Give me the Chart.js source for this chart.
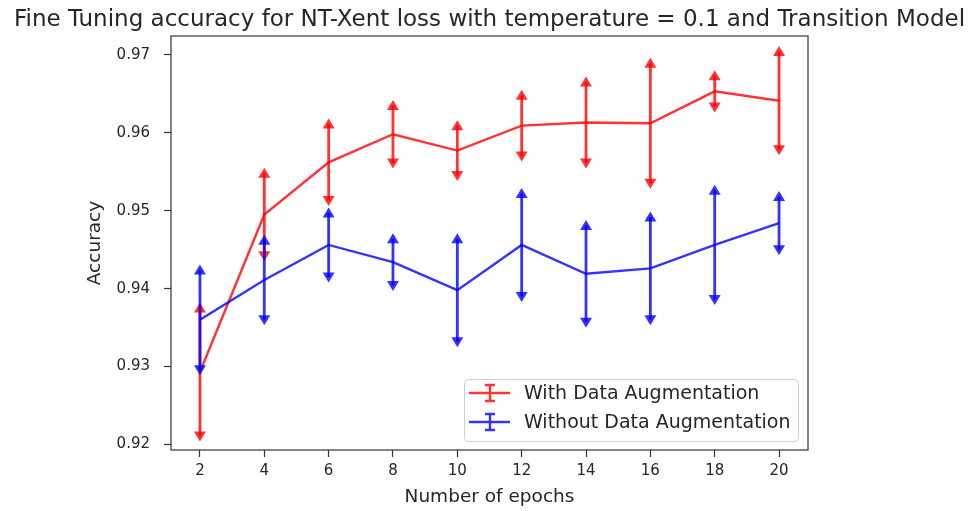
<!DOCTYPE html>
<html lang="en">
<head>
  <meta charset="UTF-8">
  <title>Fine Tuning accuracy</title>
  <style>
    body { margin: 0; background: #ffffff; }
    #wrap { width: 970px; height: 511px; }
  </style>
</head>
<body>
  <div id="wrap"><canvas id="chartCanvas" width="970" height="511"></canvas></div>

  <script src="https://cdn.jsdelivr.net/npm/chart.js"></script>
  <script>
    // values
    const epochs = [2, 4, 6, 8, 10, 12, 14, 16, 18, 20];
    const withAugMean = [0.9293, 0.9495, 0.9562, 0.9598, 0.9577, 0.9609, 0.9613, 0.9612, 0.9653, 0.9641];
    const withAugErr = [0.0082, 0.0053, 0.0049, 0.0037, 0.0032, 0.0039, 0.0052, 0.0077, 0.0020, 0.0063];
    const withoutAugMean = [0.9360, 0.9411, 0.9456, 0.9434, 0.9398, 0.9456, 0.9419, 0.9426, 0.9456, 0.9484];
    const withoutAugErr = [0.0064, 0.0051, 0.0041, 0.0030, 0.0066, 0.0066, 0.0062, 0.0066, 0.0070, 0.0034];
    const yTicks = [0.92, 0.93, 0.94, 0.95, 0.96, 0.97];

    const titleText = 'Fine Tuning accuracy for NT-Xent loss with temperature = 0.1 and Transition Model';
    const font = 'DejaVu Sans';
    const RED = 'rgba(255,0,0,0.8)';
    const BLUE = 'rgba(0,0,255,0.8)';

    const series = [
      { label: 'With Data Augmentation', mean: withAugMean, err: withAugErr, color: RED, order: 1 },
      { label: 'Without Data Augmentation', mean: withoutAugMean, err: withoutAugErr, color: BLUE, order: 0 }
    ];

    function arrow(ctx, x, y, dir) {
      // dir -1 = up, 1 = down; triangle centred on the bar end
      ctx.beginPath();
      ctx.moveTo(x, y + dir * 5.5);
      ctx.lineTo(x - 6, y - dir * 4.5);
      ctx.lineTo(x + 6, y - dir * 4.5);
      ctx.closePath();
      ctx.fill();
    }

    const errorBars = {
      id: 'errorBars',
      afterDatasetDraw(chart, args) {
        const s = series[args.index];
        const {ctx, scales: {x, y}} = chart;
        ctx.save();
        ctx.strokeStyle = s.color;
        ctx.fillStyle = s.color;
        ctx.lineWidth = 2.8;
        epochs.forEach((e, i) => {
          const px = x.getPixelForValue(e);
          const top = y.getPixelForValue(s.mean[i] + s.err[i]);
          const bot = y.getPixelForValue(s.mean[i] - s.err[i]);
          ctx.beginPath();
          ctx.moveTo(px, top);
          ctx.lineTo(px, bot);
          ctx.stroke();
          arrow(ctx, px, top, -1);
          arrow(ctx, px, bot, 1);
        });
        ctx.restore();
      }
    };

    const decorations = {
      id: 'decorations',
      afterDraw(chart) {
        const {ctx, chartArea: a} = chart;
        ctx.save();
        // frame
        ctx.strokeStyle = '#333333';
        ctx.lineWidth = 1.2;
        ctx.strokeRect(a.left, a.top, a.right - a.left, a.bottom - a.top);

        // title
        ctx.fillStyle = '#262626';
        ctx.font = '23px "' + font + '"';
        ctx.textAlign = 'center';
        ctx.textBaseline = 'alphabetic';
        ctx.fillText(titleText, (a.left + a.right) / 2, 26);

        // legend
        const lx = 464, ly = 379, lw = 334, lh = 62;
        ctx.fillStyle = 'rgba(255,255,255,0.8)';
        ctx.strokeStyle = '#d0d0d0';
        ctx.lineWidth = 1;
        ctx.beginPath();
        ctx.roundRect(lx + 0.5, ly + 0.5, lw, lh, 4);
        ctx.fill();
        ctx.stroke();
        ctx.font = '19px "' + font + '"';
        ctx.textAlign = 'left';
        ctx.textBaseline = 'middle';
        series.forEach((s, i) => {
          const cy = ly + 14 + i * 29;
          ctx.strokeStyle = s.color;
          ctx.lineWidth = 2.4;
          ctx.beginPath();
          ctx.moveTo(lx + 5, cy);
          ctx.lineTo(lx + 46, cy);
          ctx.moveTo(lx + 26, cy - 8);
          ctx.lineTo(lx + 26, cy + 8);
          ctx.moveTo(lx + 21, cy - 8);
          ctx.lineTo(lx + 31, cy - 8);
          ctx.moveTo(lx + 21, cy + 8);
          ctx.lineTo(lx + 31, cy + 8);
          ctx.stroke();
          ctx.fillStyle = '#262626';
          ctx.fillText(s.label, lx + 60, cy + 1);
        });
        ctx.restore();
      }
    };

    const tickStyle = {
      display: true,
      drawOnChartArea: false,
      drawTicks: true,
      tickLength: 7,
      tickColor: '#333333',
      tickWidth: 1.2
    };

    new Chart(document.getElementById('chartCanvas'), {
      type: 'line',
      data: {
        datasets: series.map(s => ({
          label: s.label,
          data: epochs.map((e, i) => ({x: e, y: s.mean[i]})),
          borderColor: s.color,
          borderWidth: 2.4,
          pointRadius: 0,
          tension: 0,
          fill: false,
          order: s.order
        }))
      },
      options: {
        responsive: false,
        animation: false,
        layout: { padding: { left: 80, right: 162, top: 36, bottom: 2 } },
        plugins: {
          legend: { display: false },
          title: { display: false },
          tooltip: { enabled: false }
        },
        scales: {
          x: {
            type: 'linear',
            min: 1.1,
            max: 20.9,
            grid: tickStyle,
            border: { display: false },
            afterBuildTicks: sc => { sc.ticks = epochs.map(v => ({value: v})); },
            afterFit: sc => { sc.height = 59; },
            ticks: {
              padding: 5,
              color: '#262626',
              font: { family: font, size: 15 },
              callback: v => String(v)
            },
            title: {
              display: true,
              text: 'Number of epochs',
              color: '#262626',
              font: { family: font, size: 18.5 },
              padding: { top: 0, bottom: 1 }
            }
          },
          y: {
            type: 'linear',
            min: 0.9193,
            max: 0.9724,
            grid: tickStyle,
            border: { display: false },
            afterBuildTicks: sc => { sc.ticks = yTicks.map(v => ({value: v})); },
            afterFit: sc => { sc.width = 91; },
            ticks: {
              padding: 14,
              color: '#262626',
              font: { family: font, size: 15 },
              callback: v => v.toFixed(2)
            },
            title: {
              display: true,
              text: 'Accuracy',
              color: '#262626',
              font: { family: font, size: 18.5 },
              padding: { top: 4, bottom: 0 }
            }
          }
        }
      },
      plugins: [errorBars, decorations]
    });
  </script>
</body>
</html>
